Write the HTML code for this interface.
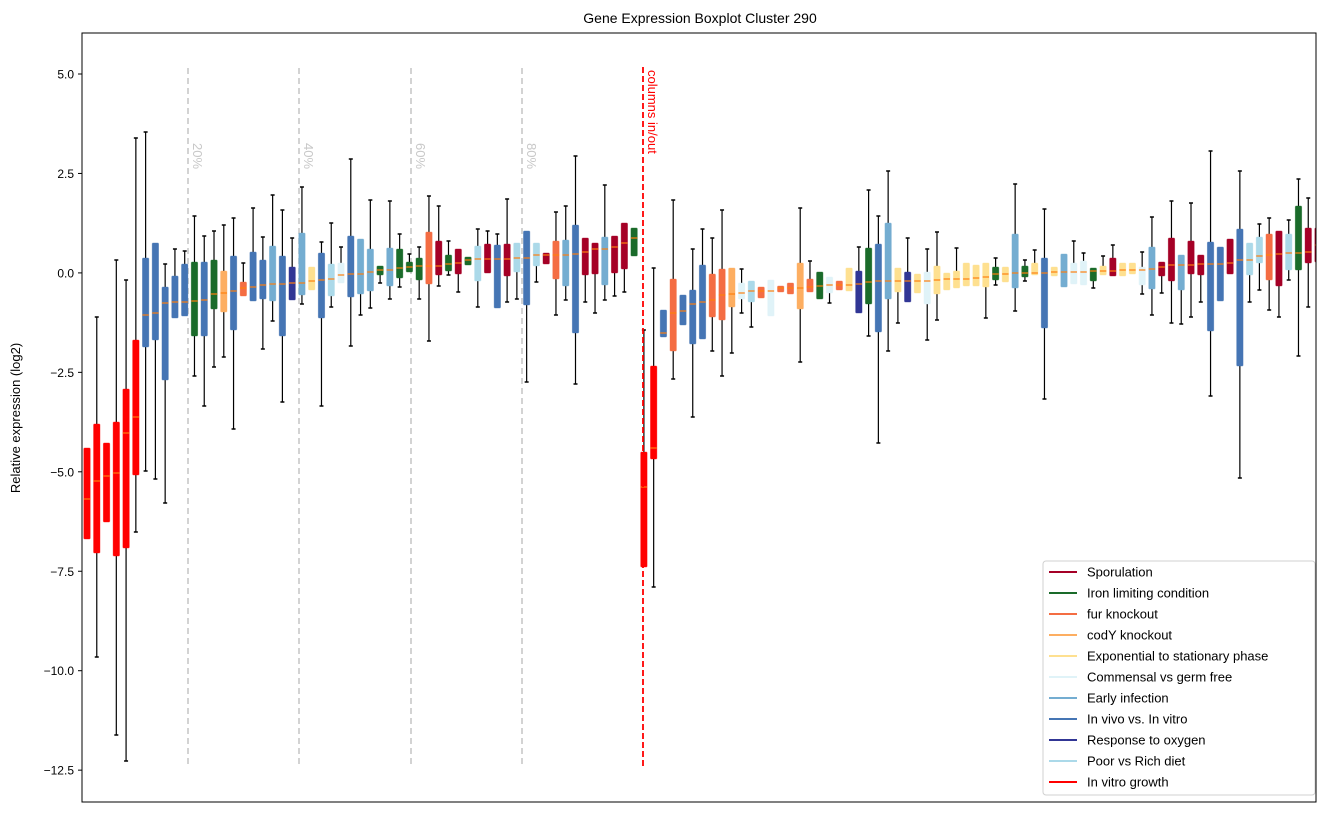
<!DOCTYPE html>
<html><head><meta charset="utf-8"><style>
html,body{margin:0;padding:0;background:#fff;}
svg text{font-family:"Liberation Sans",sans-serif;}
</style></head><body>
<svg id="s" width="1331" height="812" xmlns="http://www.w3.org/2000/svg">
<rect x="0" y="0" width="1331" height="812" fill="#fff"/>
<defs><clipPath id="c"><rect x="82" y="33" width="1234" height="769"/></clipPath></defs>
<text x="700" y="23" font-size="14" text-anchor="middle" fill="#000">Gene Expression Boxplot Cluster 290</text>
<text transform="translate(20,418) rotate(-90)" font-size="13" text-anchor="middle" fill="#000">Relative expression (log2)</text>
<g id="ticks" font-size="12" fill="#000" text-anchor="end"></g>
<g clip-path="url(#c)">
<g stroke="#c8c8c8" stroke-width="1.6" stroke-dasharray="6,4">
<line x1="188" y1="68" x2="188" y2="768"/><line x1="299" y1="68" x2="299" y2="768"/>
<line x1="411" y1="68" x2="411" y2="768"/><line x1="522" y1="68" x2="522" y2="768"/>
</g>
<g fill="#c8c8c8" font-size="13">
<text transform="translate(193,143) rotate(90)">20%</text>
<text transform="translate(304,143) rotate(90)">40%</text>
<text transform="translate(416,143) rotate(90)">60%</text>
<text transform="translate(527,143) rotate(90)">80%</text>
</g>
<g id="boxes"></g>
<line x1="643" y1="67" x2="643" y2="768" stroke="#ff0000" stroke-width="1.8" stroke-dasharray="6,3"/>
<text transform="translate(648,70) rotate(90)" fill="#ff0000" font-size="13">columns in/out</text>
</g>
<rect x="82" y="33" width="1234" height="769" fill="none" stroke="#000" stroke-width="1"/>
<g id="legend"></g>
</svg>
<script>
var C={S:"#a50026",G:"#1a6b2a",F:"#f46d43",C:"#fdae61",E:"#fee090",M:"#e0f3f8",I:"#74add1",B:"#4575b4",N:"#313695",P:"#abd9e9",R:"#ff0000"};
var D=[
["R",null,448,499,539,null],["R",317,424,481,553,657],["R",null,443,476,522,null],["R",260,422,473,556,735],["R",280,389,433,548,761],["R",138,340,417,475,532],
["B",132,258,315,347,471],["B",null,243,313,340,479],["B",264,287,303,380,503],["B",249,276,302,318,null],["B",251,264,302,316,null],["G",216,262,301,336,376],
["B",236,262,300,336,406],["G",231,260,294,309,367],["C",225,271,293,312,357],["B",218,256,291,330,429],["F",263,282,288,296,null],["B",208,252,287,301,null],
["B",237,260,285,299,349],["I",195,246,284,301,321],["B",210,256,284,336,402],["N",238,267,283,300,null],["I",187,233,283,295,304],["E",null,267,281,290,null],
["B",242,253,280,318,406],["P",223,264,279,296,307],["M",247,263,275,283,null],["B",159,236,274,297,346],["I",null,239,274,294,315],["I",200,249,272,291,308],
["G",null,266,270,275,283],["I",201,248,270,286,299],["G",234,249,268,278,287],["G",254,262,267,272,null],["G",247,258,266,280,299],["F",196,232,266,284,341],
["S",206,241,266,275,286],["G",241,255,264,271,275],["S",null,249,263,274,292],["G",null,257,260,265,null],["P",229,246,259,281,307],["S",231,244,259,273,null],
["B",234,245,259,308,null],["S",199,244,259,276,302],["P",null,243,258,272,299],["B",null,231,258,305,382],["P",null,243,255,266,282],["S",null,253,255,264,null],
["F",212,241,255,279,315],["I",206,240,255,286,300],["B",156,225,254,333,384],["S",null,238,252,275,302],["S",null,243,249,274,313],["I",185,237,249,285,300],
["S",null,236,247,273,296],["S",null,223,243,269,292],["G",null,228,238,256,null],["R",330,452,487,567,null],["R",268,366,448,459,587],["B",null,310,333,337,null],
["F",200,279,313,351,379],["B",null,295,311,325,null],["B",249,290,304,344,417],["B",229,265,302,339,null],["F",238,274,300,317,351],["F",210,269,295,320,376],
["C",null,268,294,307,353],["M",269,283,293,299,313],["P",null,281,291,302,327],["F",null,287,291,298,null],["M",null,280,291,316,null],["F",null,286,288,292,null],
["F",null,283,288,294,null],["C",208,263,288,309,362],["F",261,279,287,292,null],["G",null,272,286,299,null],["M",null,277,285,293,303],["F",null,281,285,290,null],
["E",null,268,285,291,null],["N",247,271,284,313,null],["G",190,248,282,304,336],["B",216,244,281,332,443],["I",171,223,281,299,351],["E",null,268,281,292,323],
["N",238,272,281,302,null],["E",null,274,281,293,null],["M",249,272,281,304,340],["E",232,266,280,294,320],["E",null,273,279,290,null],["E",248,271,279,288,null],
["E",null,263,279,286,null],["E",null,265,278,286,null],["E",null,263,277,287,318],["G",258,267,274,280,285],["E",null,267,274,282,null],["I",184,234,273,288,311],
["G",260,266,273,277,281],["E",250,263,273,275,null],["B",209,258,273,328,399],["E",null,267,272,276,null],["I",null,254,272,287,null],["M",241,263,272,284,null],
["M",253,261,272,285,null],["G",null,268,271,281,288],["E",256,266,271,275,null],["S",245,258,271,276,null],["E",null,263,270,276,null],["E",null,263,270,274,null],
["M",252,267,270,285,294],["I",217,247,269,289,315],["S",null,262,267,276,293],["S",201,238,265,281,323],["I",null,255,265,290,324],["S",203,241,265,274,317],
["S",null,255,264,275,302],["B",151,242,264,331,396],["B",null,247,264,301,null],["S",null,239,263,274,null],["B",171,229,260,366,478],["P",null,243,260,275,302],
["P",224,237,256,263,290],["F",218,234,255,280,310],["S",null,231,254,286,317],["P",220,234,253,270,280],["G",179,206,253,270,356],["S",198,228,252,263,307],
["S",null,228,245,262,null]
];
var h="";
D.forEach(function(d,i){
 var x=87+9.77*i, w=6.4;
 if(d[1]!=null){h+='<line x1="'+x+'" y1="'+d[1]+'" x2="'+x+'" y2="'+d[2]+'" stroke="#000" stroke-width="1.2"/><line x1="'+(x-2)+'" y1="'+d[1]+'" x2="'+(x+2)+'" y2="'+d[1]+'" stroke="#000" stroke-width="1.5"/>';}
 if(d[5]!=null){h+='<line x1="'+x+'" y1="'+d[4]+'" x2="'+x+'" y2="'+d[5]+'" stroke="#000" stroke-width="1.2"/><line x1="'+(x-2)+'" y1="'+d[5]+'" x2="'+(x+2)+'" y2="'+d[5]+'" stroke="#000" stroke-width="1.5"/>';}
 h+='<rect x="'+(x-w/2)+'" y="'+d[2]+'" width="'+w+'" height="'+(d[4]-d[2])+'" fill="'+C[d[0]]+'" stroke="'+C[d[0]]+'" stroke-opacity="0.5" stroke-width="0.8" rx="1"/>';
 h+='<line x1="'+(x-w/2)+'" y1="'+d[3]+'" x2="'+(x+w/2)+'" y2="'+d[3]+'" stroke="#ff7f0e" stroke-width="1.2"/>';
});
document.getElementById("boxes").innerHTML=h;
var t="",labs=["5.0","2.5","0.0","\u22122.5","\u22125.0","\u22127.5","\u221210.0","\u221212.5"];
for(var k=0;k<8;k++){var y=74+k*99.45;t+='<line x1="78" y1="'+y+'" x2="82" y2="'+y+'" stroke="#000"/><text x="74" y="'+(y+4.5)+'">'+labs[k]+'</text>';}
document.getElementById("ticks").innerHTML=t;
var L=[["Sporulation","S"],["Iron limiting condition","G"],["fur knockout","F"],["codY knockout","C"],["Exponential to stationary phase","E"],["Commensal vs germ free","M"],["Early infection","I"],["In vivo vs. In vitro","B"],["Response to oxygen","N"],["Poor vs Rich diet","P"],["In vitro growth","R"]];
var g='<rect x="1043" y="561" width="272" height="234" rx="3" fill="#fff" fill-opacity="0.85" stroke="#d0d0d0"/>';
L.forEach(function(l,i){var y=572+i*21;g+='<line x1="1049" y1="'+y+'" x2="1077" y2="'+y+'" stroke="'+C[l[1]]+'" stroke-width="2"/><text x="1087" y="'+(y+4.5)+'" font-size="13" fill="#000">'+l[0]+'</text>';});
document.getElementById("legend").innerHTML=g;
</script>
</body></html>
